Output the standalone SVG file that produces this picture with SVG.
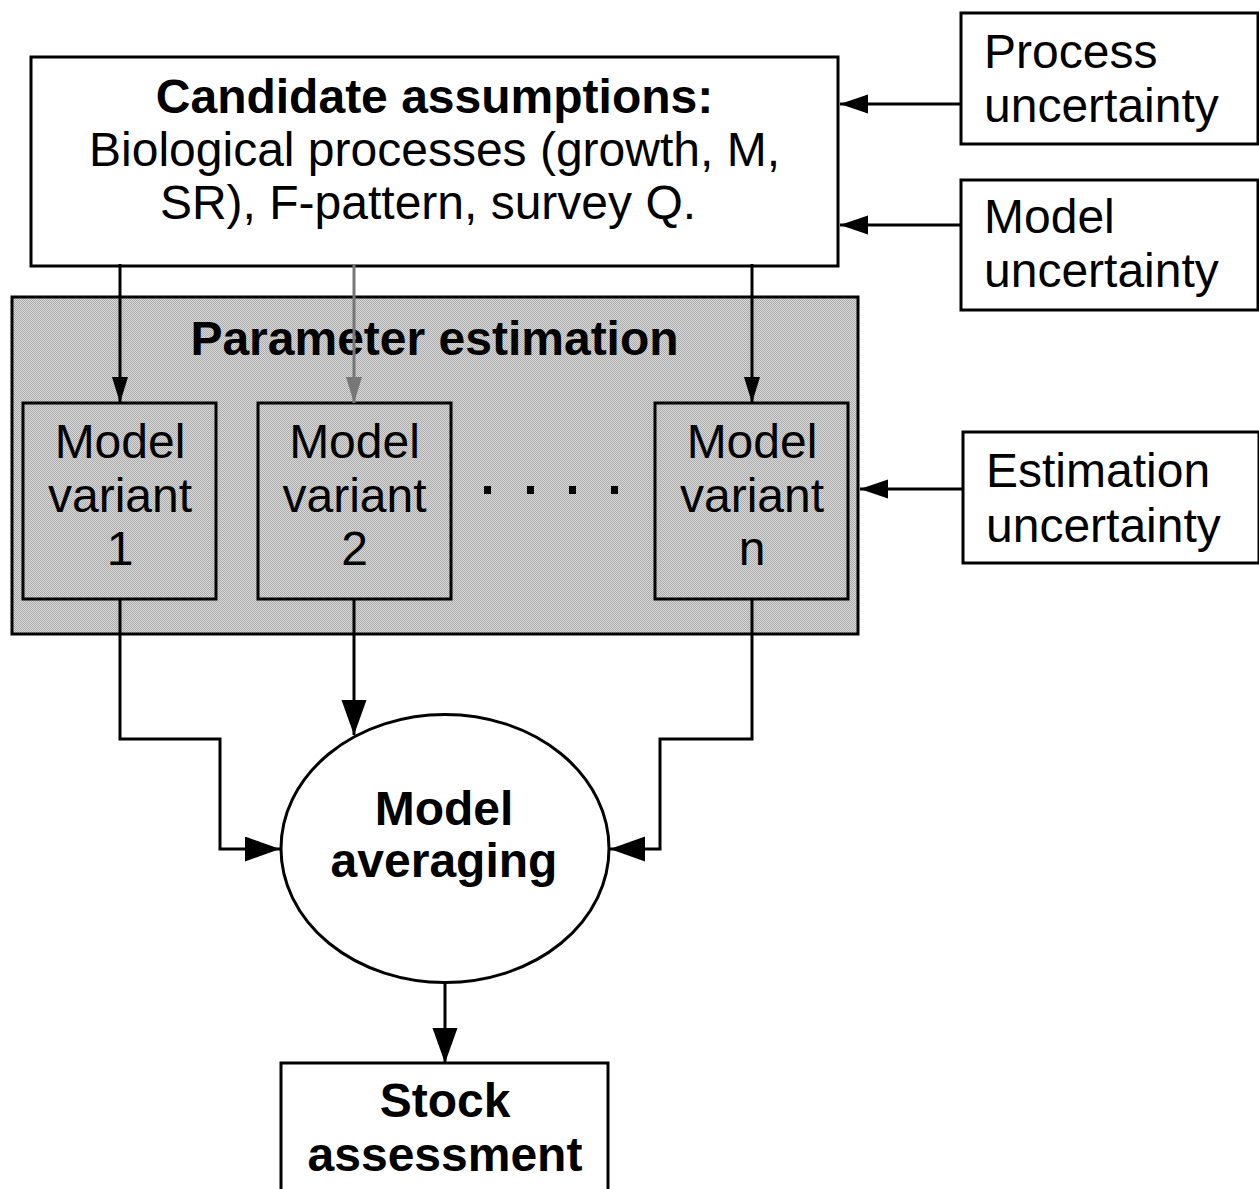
<svg xmlns="http://www.w3.org/2000/svg" width="1259" height="1189" viewBox="0 0 1259 1189">
<style>
.box{fill:#fff;stroke:#000;stroke-width:3}
.sub{fill:none;stroke:#000;stroke-width:3}
.t{font-family:"Liberation Sans",Arial,sans-serif;font-size:48px;fill:#000}
.b{font-weight:bold}
.c{text-anchor:middle}
.ln{fill:none;stroke:#000;stroke-width:3}
</style>
<defs>
<pattern id="dither" width="2" height="2" patternUnits="userSpaceOnUse">
<rect width="2" height="2" fill="#dcdcdc"/>
<rect width="1" height="1" fill="#a8a8a8"/>
<rect x="1" y="1" width="1" height="1" fill="#a8a8a8"/>
</pattern>
<marker id="aS" markerUnits="userSpaceOnUse" markerWidth="28" markerHeight="18" refX="26" refY="8" orient="auto">
<path d="M0,0 L26,8 L0,16 Z" fill="#000"/>
</marker>
<marker id="aSg" markerUnits="userSpaceOnUse" markerWidth="28" markerHeight="18" refX="26" refY="8" orient="auto">
<path d="M0,0 L26,8 L0,16 Z" fill="#777"/>
</marker>
<marker id="aM" markerUnits="userSpaceOnUse" markerWidth="30" markerHeight="20" refX="28" refY="9.5" orient="auto">
<path d="M0,0 L28,9.5 L0,19 Z" fill="#000"/>
</marker>
<marker id="aL" markerUnits="userSpaceOnUse" markerWidth="38" markerHeight="26" refX="35" refY="12.5" orient="auto">
<path d="M0,0 L35,12.5 L0,25 Z" fill="#000"/>
</marker>
</defs>
<rect width="1259" height="1189" fill="#fff"/>

<g id="parameter-estimation">
<rect x="12" y="297" width="846" height="337" fill="url(#dither)" stroke="#000" stroke-width="3"/>
<text class="t b c" x="434.5" y="355">Parameter estimation</text>
</g>

<g id="candidate-assumptions">
<rect class="box" x="31" y="57" width="807" height="209"/>
<text class="t b c" x="434.5" y="113">Candidate assumptions:</text>
<text class="t c" x="434.5" y="166">Biological processes (growth, M,</text>
<text class="t c" x="428" y="219">SR), F-pattern, survey Q.</text>
</g>

<g id="process-uncertainty">
<rect class="box" x="961" y="13" width="297" height="131"/>
<text class="t" x="984" y="68">Process</text>
<text class="t" x="984" y="122">uncertainty</text>
</g>

<g id="model-uncertainty">
<rect class="box" x="961" y="180" width="297" height="130"/>
<text class="t" x="984" y="233">Model</text>
<text class="t" x="984" y="287">uncertainty</text>
</g>

<g id="estimation-uncertainty">
<rect class="box" x="963" y="432" width="296" height="131"/>
<text class="t" x="986" y="487">Estimation</text>
<text class="t" x="986" y="542">uncertainty</text>
</g>

<g id="model-variant-1">
<rect class="sub" x="23" y="403" width="193" height="196"/>
<text class="t c" x="120" y="458">Model</text>
<text class="t c" x="120" y="512">variant</text>
<text class="t c" x="120" y="565">1</text>
</g>

<g id="model-variant-2">
<rect class="sub" x="258" y="403" width="193" height="196"/>
<text class="t c" x="354.5" y="458">Model</text>
<text class="t c" x="354.5" y="512">variant</text>
<text class="t c" x="354.5" y="565">2</text>
</g>

<g id="ellipsis">
<rect x="484" y="486" width="7" height="8" fill="#000"/>
<rect x="527" y="486" width="7" height="8" fill="#000"/>
<rect x="569" y="486" width="7" height="8" fill="#000"/>
<rect x="611" y="486" width="7" height="8" fill="#000"/>
</g>

<g id="model-variant-n">
<rect class="sub" x="655" y="403" width="193" height="196"/>
<text class="t c" x="752" y="458">Model</text>
<text class="t c" x="752" y="512">variant</text>
<text class="t c" x="752" y="565">n</text>
</g>

<g id="model-averaging">
<ellipse cx="445" cy="848.5" rx="164" ry="134" fill="#fff" stroke="#000" stroke-width="3"/>
<text class="t b c" x="444" y="825">Model</text>
<text class="t b c" x="444" y="877">averaging</text>
</g>

<g id="stock-assessment">
<rect class="box" x="281" y="1063" width="327" height="140"/>
<text class="t b c" x="445" y="1117">Stock</text>
<text class="t b c" x="445" y="1171">assessment</text>
</g>

<g id="connectors">
<line class="ln" x1="961" y1="104" x2="840" y2="104" marker-end="url(#aM)"/>
<line class="ln" x1="961" y1="225" x2="840" y2="225" marker-end="url(#aM)"/>
<line class="ln" x1="963" y1="489" x2="860" y2="489" marker-end="url(#aM)"/>
<line class="ln" x1="120" y1="264" x2="120" y2="403" marker-end="url(#aS)"/>
<line x1="354" y1="264" x2="354" y2="403" stroke="#777" stroke-width="3" marker-end="url(#aSg)"/>
<line class="ln" x1="752" y1="264" x2="752" y2="403" marker-end="url(#aS)"/>
<polyline class="ln" points="120,599 120,739 220,739 220,849 280,849" marker-end="url(#aL)"/>
<line class="ln" x1="354" y1="599" x2="354" y2="735" marker-end="url(#aL)"/>
<polyline class="ln" points="752,599 752,739 660,739 660,849 610,849" marker-end="url(#aL)"/>
<line class="ln" x1="445" y1="983" x2="445" y2="1063" marker-end="url(#aL)"/>
</g>
</svg>
